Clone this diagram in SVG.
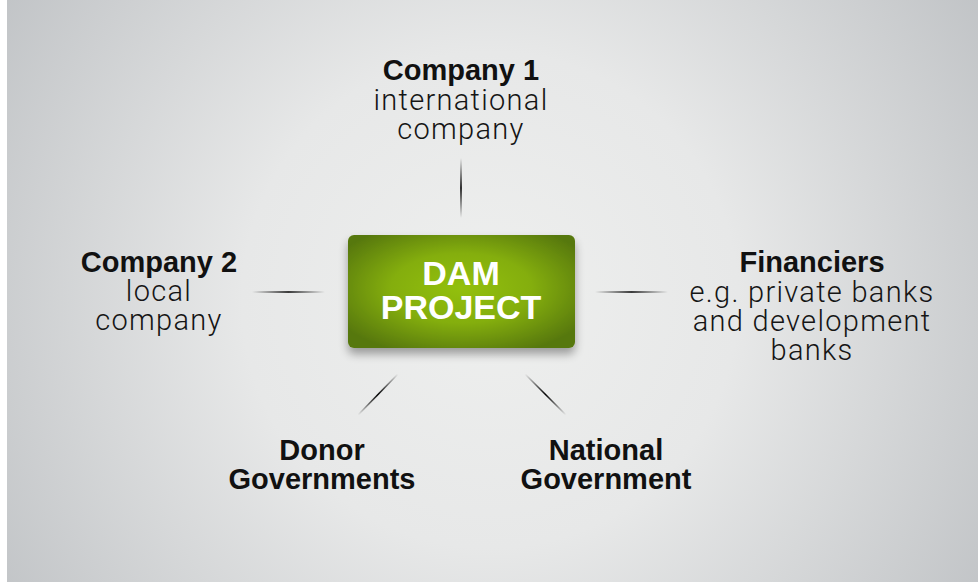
<svg xmlns="http://www.w3.org/2000/svg" width="978" height="583" viewBox="0 0 978 583">
<defs>
<radialGradient id="bg" gradientUnits="userSpaceOnUse" cx="490" cy="300" r="620">
<stop offset="0" stop-color="#eeefee"/>
<stop offset="0.4" stop-color="#e7e8e8"/>
<stop offset="1" stop-color="#bcbfc2"/>
</radialGradient>
<radialGradient id="box" cx="0.5" cy="0.47" r="0.62">
<stop offset="0" stop-color="#93c010"/>
<stop offset="0.5" stop-color="#84ae0c"/>
<stop offset="1" stop-color="#57780a"/>
</radialGradient>
<filter id="sh" x="-20%" y="-20%" width="140%" height="150%">
<feGaussianBlur in="SourceAlpha" stdDeviation="5"/>
<feOffset dy="6"/>
<feComponentTransfer><feFuncA type="linear" slope="0.35"/></feComponentTransfer>
<feMerge><feMergeNode/><feMergeNode in="SourceGraphic"/></feMerge>
</filter>
<linearGradient id="gV" gradientUnits="userSpaceOnUse" x1="0" y1="158" x2="0" y2="218">
<stop offset="0" stop-color="#000" stop-opacity="0"/><stop offset="0.5" stop-color="#000"/><stop offset="1" stop-color="#000" stop-opacity="0"/>
</linearGradient>
<linearGradient id="gL" gradientUnits="userSpaceOnUse" x1="252" y1="0" x2="325" y2="0">
<stop offset="0" stop-color="#000" stop-opacity="0"/><stop offset="0.5" stop-color="#000"/><stop offset="1" stop-color="#000" stop-opacity="0"/>
</linearGradient>
<linearGradient id="gR" gradientUnits="userSpaceOnUse" x1="595" y1="0" x2="668" y2="0">
<stop offset="0" stop-color="#000" stop-opacity="0"/><stop offset="0.5" stop-color="#000"/><stop offset="1" stop-color="#000" stop-opacity="0"/>
</linearGradient>
<linearGradient id="gDL" gradientUnits="userSpaceOnUse" x1="398" y1="374" x2="358" y2="415">
<stop offset="0" stop-color="#000" stop-opacity="0"/><stop offset="0.5" stop-color="#000"/><stop offset="1" stop-color="#000" stop-opacity="0"/>
</linearGradient>
<linearGradient id="gDR" gradientUnits="userSpaceOnUse" x1="525" y1="374" x2="566" y2="415">
<stop offset="0" stop-color="#000" stop-opacity="0"/><stop offset="0.5" stop-color="#000"/><stop offset="1" stop-color="#000" stop-opacity="0"/>
</linearGradient>
</defs>
<style>
.b{font-family:"Liberation Sans",Arial,sans-serif;font-weight:bold;font-size:29px;fill:#111;text-anchor:middle}
.l{font-family:Roboto,"Liberation Sans",sans-serif;font-weight:300;font-size:29px;letter-spacing:1.3px;fill:#151515;text-anchor:middle}
.c{font-family:"Liberation Sans",Arial,sans-serif;font-weight:bold;font-size:34px;fill:#fff;text-anchor:middle}
.cn{stroke-width:1.6;fill:none}
</style>
<rect x="0" y="0" width="978" height="583" fill="#fff"/>
<rect x="7" y="0" width="971" height="582" fill="url(#bg)"/>
<g id="connectors">
<line class="cn" x1="461" y1="158" x2="461" y2="218" stroke="url(#gV)"/>
<line class="cn" x1="252" y1="292" x2="325" y2="292" stroke="url(#gL)"/>
<line class="cn" x1="595" y1="292" x2="668" y2="292" stroke="url(#gR)"/>
<line class="cn" x1="398" y1="374" x2="358" y2="415" stroke="url(#gDL)"/>
<line class="cn" x1="525" y1="374" x2="566" y2="415" stroke="url(#gDR)"/>
</g>
<g id="dam-project">
<rect x="348" y="235" width="227" height="113" rx="6" fill="url(#box)" filter="url(#sh)"/>
<text class="c" x="461" y="285">DAM</text>
<text class="c" x="461" y="319">PROJECT</text>
</g>
<g id="company1">
<text class="b" x="461" y="80">Company 1</text>
<text class="l" x="461" y="110">international</text>
<text class="l" x="461" y="139">company</text>
</g>
<g id="company2">
<text class="b" x="159" y="272">Company 2</text>
<text class="l" x="159" y="301">local</text>
<text class="l" x="159" y="330">company</text>
</g>
<g id="financiers">
<text class="b" x="812" y="272">Financiers</text>
<text class="l" x="812" y="302">e.g. private banks</text>
<text class="l" x="812" y="331">and development</text>
<text class="l" x="812" y="360">banks</text>
</g>
<g id="donor-governments">
<text class="b" x="322" y="460">Donor</text>
<text class="b" x="322" y="489">Governments</text>
</g>
<g id="national-government">
<text class="b" x="606" y="460">National</text>
<text class="b" x="606" y="489">Government</text>
</g>
</svg>
